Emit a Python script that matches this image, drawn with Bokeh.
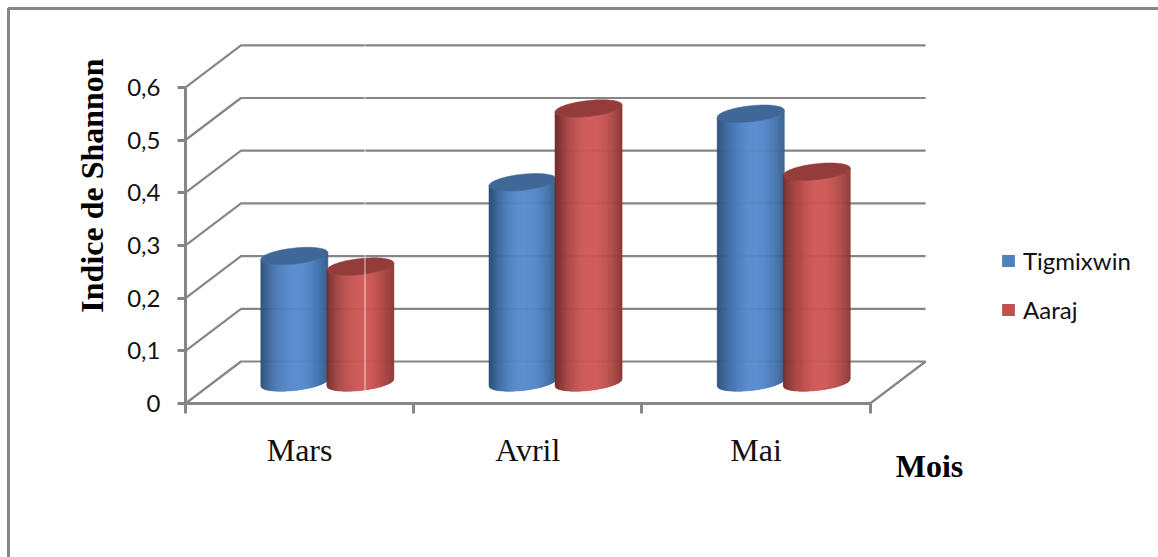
import numpy as np
from bokeh.embed import file_html
from bokeh.models import (BoxAnnotation, FixedTicker, Label, Legend, LegendItem,
                          LinearAxis, Range1d)
from bokeh.plotting import figure
from bokeh.resources import INLINE

# Shannon index per month and site
months = ["Mars", "Avril", "Mai"]
tigmixwin = [0.24, 0.38, 0.51]
aaraj = [0.22, 0.52, 0.40]
value_ticks = [0, 0.1, 0.2, 0.3, 0.4, 0.5, 0.6]
value_labels = ["0", "0,1", "0,2", "0,3", "0,4", "0,5", "0,6"]

GRID = "#868686"

# Page layout: the frame fills the page, the origin sits at pixel (LEFT, BOTTOM_Y)
W, H = 1158, 557
LEFT, BOTTOM_Y = 185, 403
UX, UY = 228.2, 527.0          # pixels per category, pixels per index unit

# Oblique projection of the floor depth, in data units
DEPTH_X, DEPTH_Y = 55.5 / UX, 42.0 / UY
# Cylinder shape, in data units
RADIUS = 33.5 / UX
TILT = 3.5 / UY
MINOR = 8.0 / UY
OFFSET = 33.0 / UX


def px_x(x):
    return (x - LEFT) / UX


def px_y(y):
    return (BOTTOM_Y - y) / UY


p = figure(width=W, height=H, output_backend="svg", toolbar_location=None,
           x_range=Range1d(px_x(0), px_x(W)), y_range=Range1d(px_y(H), px_y(0)),
           min_border=0, x_axis_location=None, y_axis_location=None,
           outline_line_color=None, background_fill_color="white",
           border_fill_color="white")
p.grid.visible = False

# Gridlines: side wall then back wall, at every value tick except the floor
for v in value_ticks[1:]:
    p.line([0, DEPTH_X, len(months) + DEPTH_X], [v, v + DEPTH_Y, v + DEPTH_Y],
           line_color=GRID, line_width=2.2)
# Floor outline
p.line([0, DEPTH_X, len(months) + DEPTH_X, len(months)], [0, DEPTH_Y, DEPTH_Y, 0],
       line_color=GRID, line_width=2.2)


def shade(colour_edge, colour_mid, u):
    """Blend from the edge colour to the mid colour across a cylinder (u in -1..1)."""
    t = np.clip(1 - (abs(u - 0.08) / 1.08) ** 2.0, 0, 1)
    rgb = [int(round(e + (m - e) * t)) for e, m in zip(colour_edge, colour_mid)]
    return "#%02x%02x%02x" % tuple(rgb)


def cylinder(cx, value, edge, mid, cap):
    """Draw one cylinder as thin shaded strips plus an elliptical top face."""
    base = DEPTH_Y / 2
    edges = np.linspace(-1, 1, 69)
    lower = lambda u: TILT * u - MINOR * np.sqrt(np.clip(1 - u * u, 0, 1))
    xs, ys, colours = [], [], []
    for u0, u1 in zip(edges[:-1], edges[1:]):
        xs.append([cx + RADIUS * u0, cx + RADIUS * u1, cx + RADIUS * u1, cx + RADIUS * u0])
        ys.append([base + lower(u0), base + lower(u1),
                   base + value + lower(u1), base + value + lower(u0)])
        colours.append(shade(edge, mid, (u0 + u1) / 2))
    p.patches(xs, ys, fill_color=colours, line_color=colours, line_width=0.6)
    t = np.linspace(0, 2 * np.pi, 90)
    p.patch(cx + RADIUS * np.cos(t),
            base + value + TILT * np.cos(t) + MINOR * np.sin(t),
            fill_color=cap, line_color=cap, line_width=0.5)


BLUE_EDGE, BLUE_MID, BLUE_CAP = (42, 78, 118), (86, 138, 206), "#3f6797"
RED_EDGE, RED_MID, RED_CAP = (112, 44, 42), (207, 88, 86), "#943c3a"
for i in range(len(months)):
    centre = i + 0.5 + DEPTH_X / 2
    cylinder(centre - OFFSET, tigmixwin[i], BLUE_EDGE, BLUE_MID, BLUE_CAP)
    cylinder(centre + OFFSET, aaraj[i], RED_EDGE, RED_MID, RED_CAP)

# Thin pale seam running down through the first slot
seam_x = px_x(364.5)
p.segment([seam_x], [0], [seam_x], [value_ticks[-1] + DEPTH_Y],
          line_color="#ffffff", line_width=1, line_alpha=0.75)

# Value axis on the front-left edge
yaxis = LinearAxis(fixed_location=0, ticker=FixedTicker(ticks=value_ticks), bounds=(0, 0.6),
                   major_label_overrides=dict(zip(value_ticks, value_labels)),
                   axis_line_color=GRID, axis_line_width=3,
                   major_tick_line_color=GRID, major_tick_line_width=3,
                   major_tick_in=0, major_tick_out=8, minor_tick_line_color=None,
                   major_label_standoff=17, major_label_text_font="Lato",
                   major_label_text_font_size="24px", major_label_text_color="#111111")
p.add_layout(yaxis, "left")

# Category axis: marks at the slot edges, names centred in the slots
slot_edges = list(range(len(months) + 1))
slot_centres = [i + 0.5 for i in range(len(months))]
xaxis = LinearAxis(fixed_location=0,
                   ticker=FixedTicker(ticks=slot_centres, minor_ticks=slot_edges),
                   bounds=(0, len(months)),
                   major_label_overrides=dict(zip(slot_centres, months)),
                   axis_line_color=GRID, axis_line_width=3,
                   major_tick_line_color=None, major_tick_in=0, major_tick_out=0,
                   minor_tick_line_color=GRID, minor_tick_line_width=3,
                   minor_tick_in=0, minor_tick_out=10,
                   major_label_standoff=18, major_label_text_font="Liberation Serif",
                   major_label_text_font_size="32px", major_label_text_color="#111111")
p.add_layout(xaxis, "below")

# Legend swatches carry the flat series colours; their own quads have no area
blue_key = p.quad(left=[0], right=[0], top=[0], bottom=[0], fill_color="#4f81bd", line_color=None)
red_key = p.quad(left=[0], right=[0], top=[0], bottom=[0], fill_color="#c0504d", line_color=None)
legend = Legend(items=[LegendItem(label="Tigmixwin", renderers=[blue_key]),
                       LegendItem(label="Aaraj", renderers=[red_key])],
                location=(1000, 233), orientation="vertical",
                glyph_width=16, glyph_height=15, label_standoff=7, spacing=20,
                padding=0, margin=0, border_line_color=None, background_fill_alpha=0,
                label_text_font="Lato", label_text_font_size="24px",
                label_text_color="#111111")
p.add_layout(legend, "center")

# Axis titles
p.add_layout(Label(x=px_x(91), y=px_y(185), text="Indice de Shannon",
                   angle=np.pi / 2, text_align="center", text_baseline="middle",
                   text_font="Liberation Serif", text_font_style="bold",
                   text_font_size="32px", text_color="#000000"))
p.add_layout(Label(x=px_x(929), y=px_y(465), text="Mois",
                   text_align="center", text_baseline="middle",
                   text_font="Liberation Serif", text_font_style="bold",
                   text_font_size="32px", text_color="#000000"))

# Chart-area border, open towards the right and the bottom of the page
p.add_layout(BoxAnnotation(left=px_x(8), right=px_x(W + 20),
                           top=px_y(8), bottom=px_y(H + 20),
                           fill_alpha=0, line_color=GRID, line_alpha=1, line_width=3))

open("out.html", "w").write(file_html(p, INLINE))
